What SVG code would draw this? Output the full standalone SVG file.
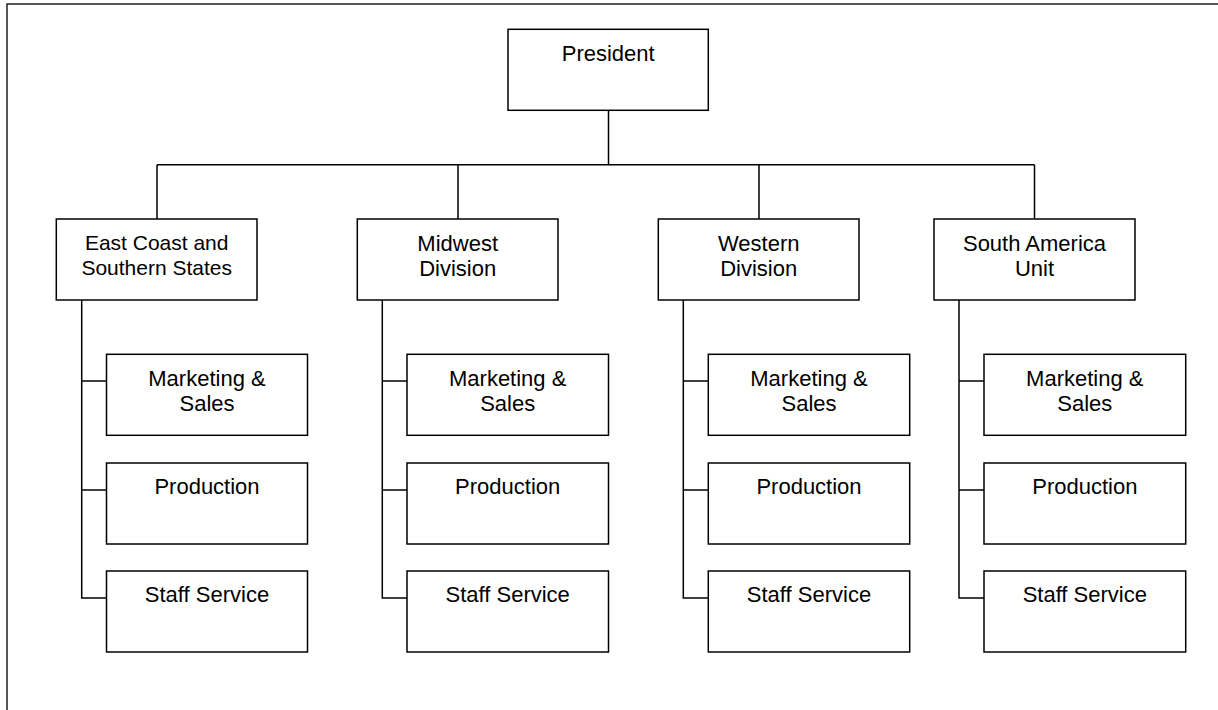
<svg xmlns="http://www.w3.org/2000/svg" width="1218" height="710" viewBox="0 0 1218 710">
<style>
.box{fill:#fff;stroke:#000;stroke-width:1.5}
.ln{fill:none;stroke:#000;stroke-width:1.5}
text{font-family:"Liberation Sans",Arial,sans-serif;font-size:22px;fill:#000;text-anchor:middle}
.sm{font-size:21px}
</style>
<rect x="0" y="0" width="1218" height="710" fill="#fff"/>
<rect x="7" y="4" width="1220" height="720" fill="none" stroke="#222" stroke-width="1.5"/>
<g id="connectors" class="ln">
<path d="M608.5 110V164.7M157 164.7H1034.5M157 164.7V219M458 164.7V219M759 164.7V219M1034.5 164.7V219"/>
<path d="M81.7 300V598H106.5M81.7 381H106.5M81.7 490H106.5"/>
<path d="M382.3 300V598H407M382.3 381H407M382.3 490H407"/>
<path d="M683.3 300V598H708.3M683.3 381H708.3M683.3 490H708.3"/>
<path d="M959 300V598H984M959 381H984M959 490H984"/>
</g>
<g id="president"><rect class="box" x="508" y="29.3" width="200.3" height="81"/><text x="608.2" y="61">President</text></g>
<g id="east"><rect class="box" x="56.3" y="219" width="200.7" height="81"/><text class="sm" x="156.7" y="250">East Coast and</text><text class="sm" x="156.7" y="275">Southern States</text></g>
<g id="midwest"><rect class="box" x="357.3" y="219" width="200.7" height="81"/><text x="457.7" y="250.5">Midwest</text><text x="457.7" y="275.5">Division</text></g>
<g id="western"><rect class="box" x="658.3" y="219" width="200.7" height="81"/><text x="758.7" y="250.5">Western</text><text x="758.7" y="275.5">Division</text></g>
<g id="southamerica"><rect class="box" x="934" y="219" width="201" height="81"/><text x="1034.5" y="250.5">South America</text><text x="1034.5" y="275.5">Unit</text></g>
<g id="east-marketing"><rect class="box" x="106.5" y="354.3" width="201" height="81"/><text x="207" y="386">Marketing &amp;</text><text x="207" y="411">Sales</text></g>
<g id="east-production"><rect class="box" x="106.5" y="463" width="201" height="81"/><text x="207" y="494">Production</text></g>
<g id="east-staff"><rect class="box" x="106.5" y="571" width="201" height="81"/><text x="207" y="602">Staff Service</text></g>
<g id="mid-marketing"><rect class="box" x="407" y="354.3" width="201.5" height="81"/><text x="507.7" y="386">Marketing &amp;</text><text x="507.7" y="411">Sales</text></g>
<g id="mid-production"><rect class="box" x="407" y="463" width="201.5" height="81"/><text x="507.7" y="494">Production</text></g>
<g id="mid-staff"><rect class="box" x="407" y="571" width="201.5" height="81"/><text x="507.7" y="602">Staff Service</text></g>
<g id="west-marketing"><rect class="box" x="708.3" y="354.3" width="201.4" height="81"/><text x="809" y="386">Marketing &amp;</text><text x="809" y="411">Sales</text></g>
<g id="west-production"><rect class="box" x="708.3" y="463" width="201.4" height="81"/><text x="809" y="494">Production</text></g>
<g id="west-staff"><rect class="box" x="708.3" y="571" width="201.4" height="81"/><text x="809" y="602">Staff Service</text></g>
<g id="sa-marketing"><rect class="box" x="984" y="354.3" width="201.7" height="81"/><text x="1084.8" y="386">Marketing &amp;</text><text x="1084.8" y="411">Sales</text></g>
<g id="sa-production"><rect class="box" x="984" y="463" width="201.7" height="81"/><text x="1084.8" y="494">Production</text></g>
<g id="sa-staff"><rect class="box" x="984" y="571" width="201.7" height="81"/><text x="1084.8" y="602">Staff Service</text></g>
</svg>
